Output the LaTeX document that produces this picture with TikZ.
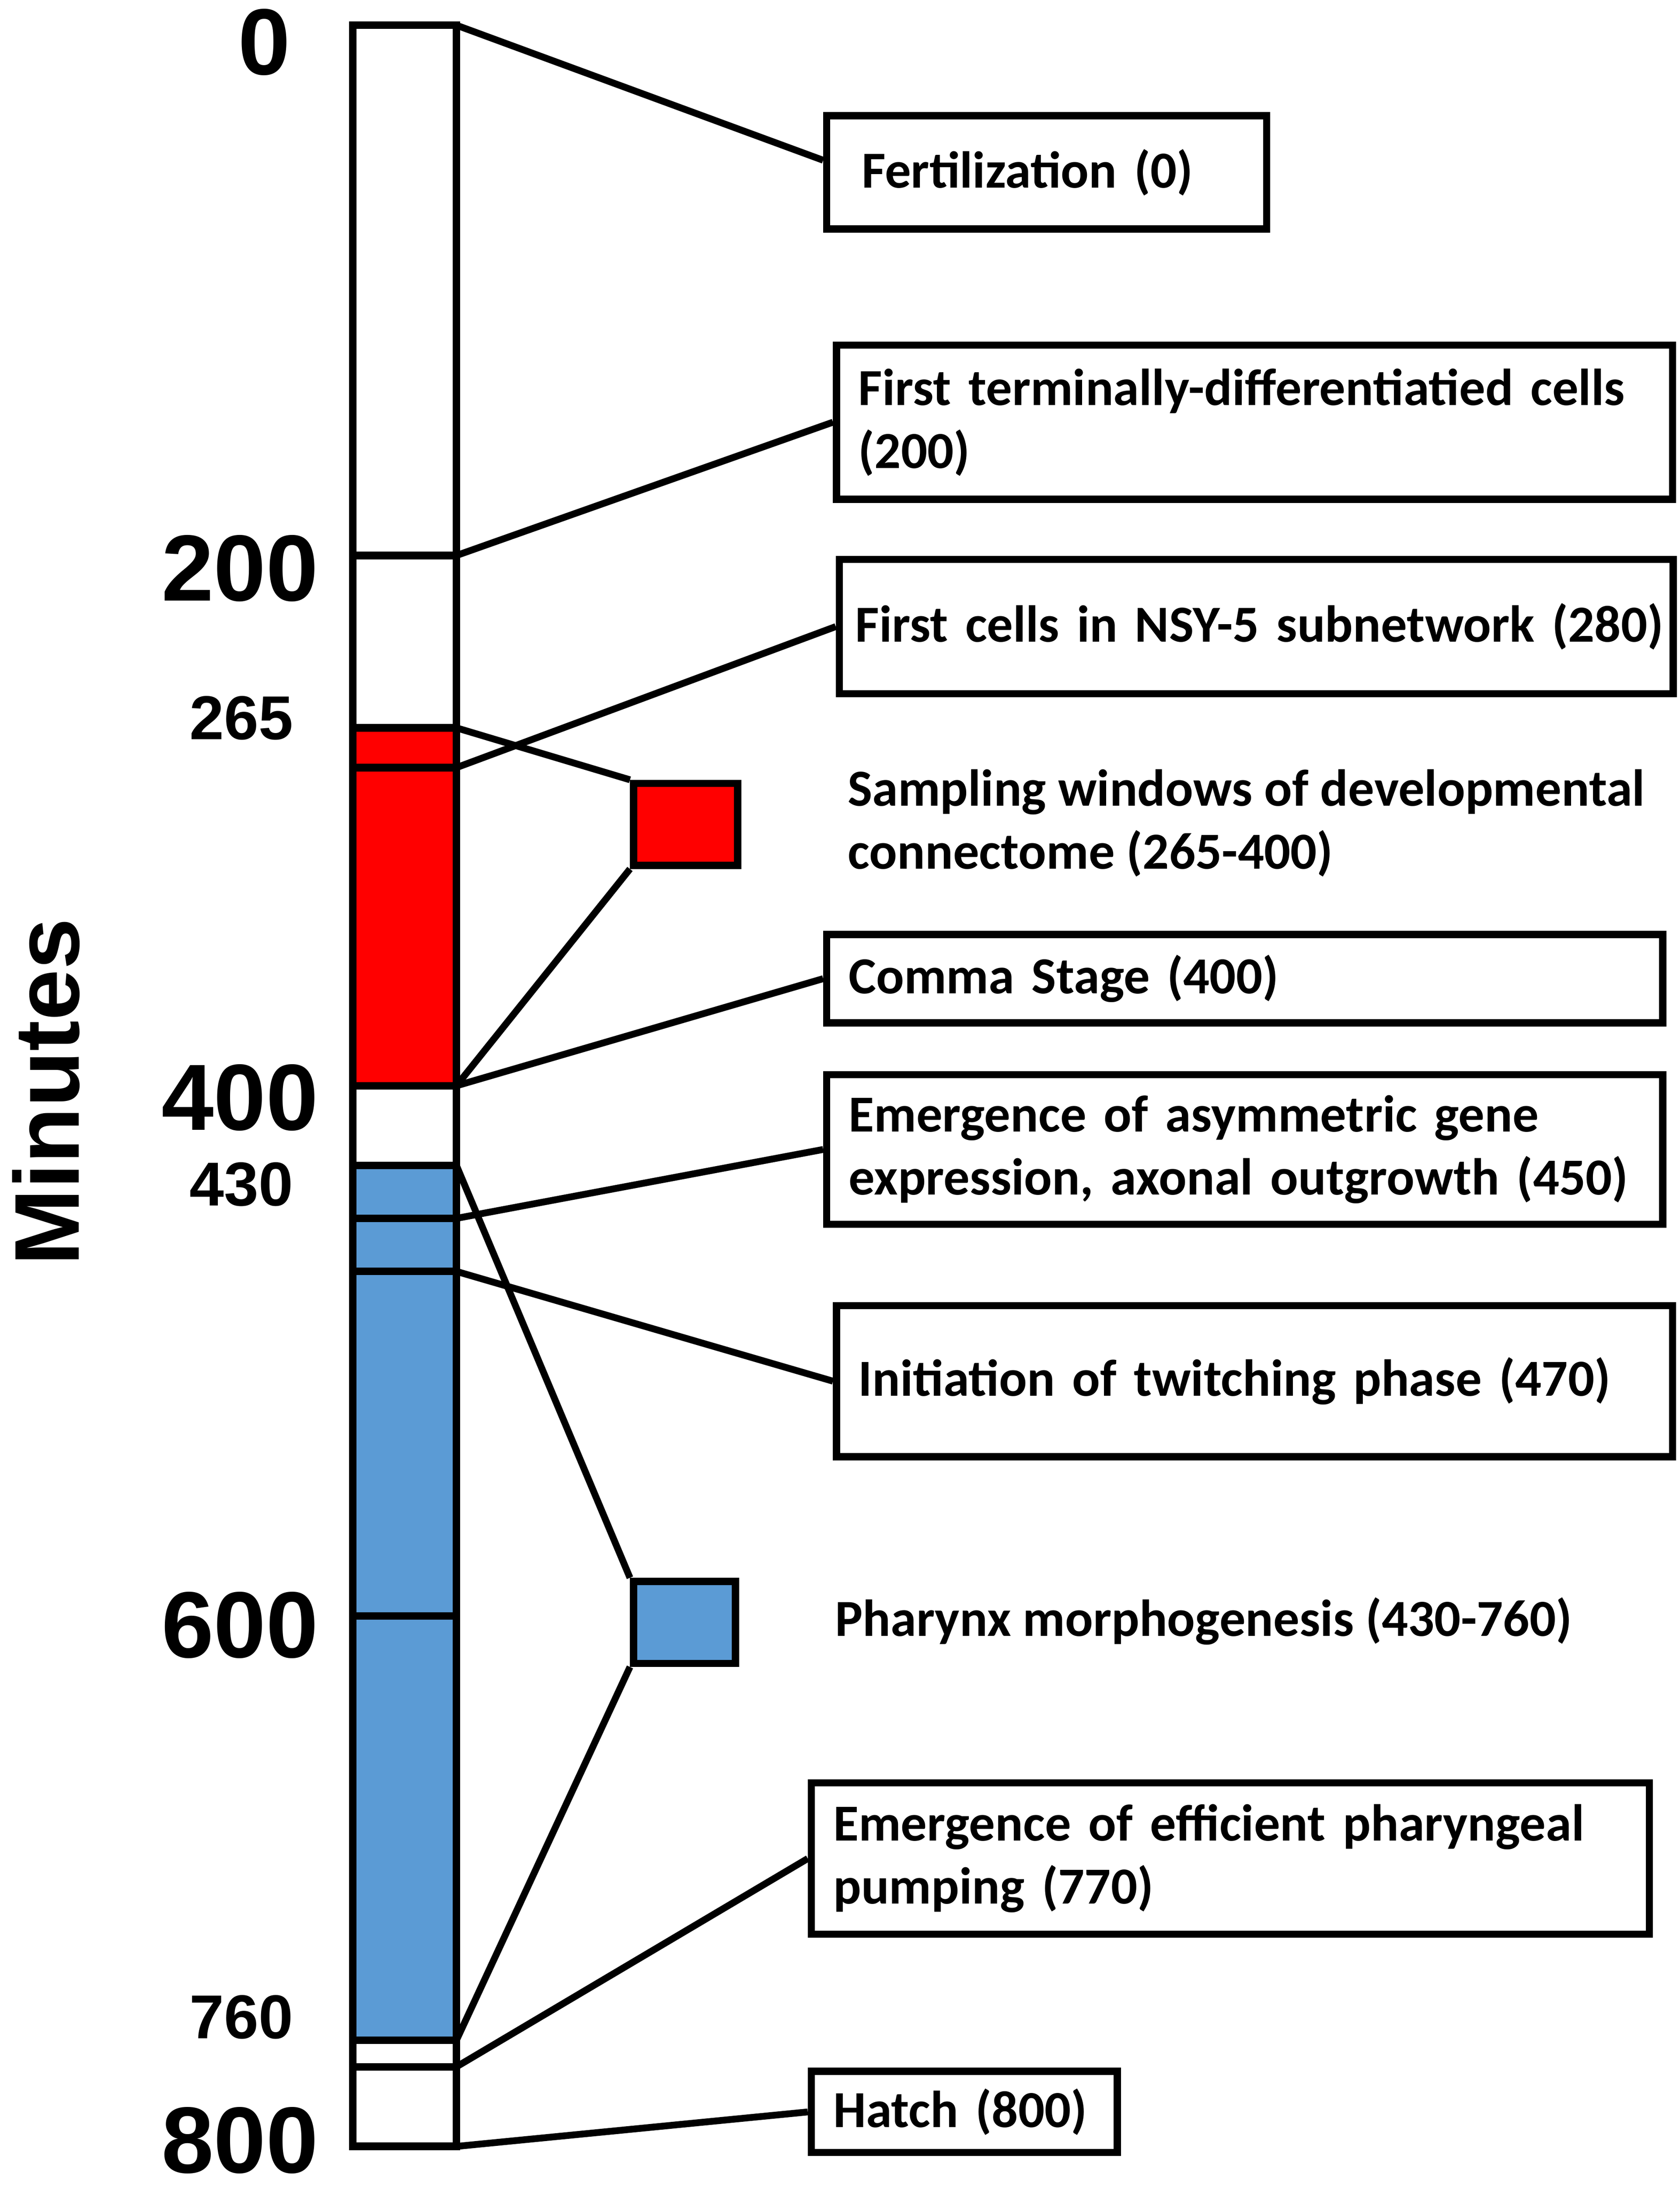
\documentclass[tikz,border=0pt]{standalone}
\usepackage{fontspec}
\newfontfamily\calfont{Carlito}
\newfontfamily\arfont{Liberation Sans}
\usetikzlibrary{calc}
\definecolor{winred}{RGB}{255,0,0}
\definecolor{winblue}{RGB}{91,155,213}

\begin{document}
\begin{tikzpicture}[x=0.35pt,y=-0.35pt,
  evbox/.style={draw,line width=1.8pt,anchor=north west,align=left,inner xsep=5.5pt,
    font=\calfont\bfseries\fontsize{13}{15.75}\selectfont},
  evtext/.style={anchor=west,align=left,inner sep=0pt,
    font=\calfont\bfseries\fontsize{13}{15.75}\selectfont},
  winbox/.style={draw,line width=1.8pt,anchor=north west,inner sep=0pt},
  link/.style={line width=1.7pt},
  bignum/.style={anchor=east,inner sep=0pt,font=\arfont\bfseries\fontsize{23.5}{28}\selectfont},
  smallnum/.style={anchor=east,inner sep=0pt,font=\arfont\bfseries\fontsize{15.5}{18}\selectfont}]
\useasboundingbox (0,0) rectangle (1200,1562.2);

% time bar, one y unit = one minute
\begin{scope}[shift={(0,18)},y=-0.6629pt]
\fill[winred] (252,265) rectangle (326,400);
\fill[winblue] (252,430) rectangle (326,760);
\foreach \t in {0,200,265,280,400,430,450,470,600,760,770,800} % edit here for the events
{
\draw[line width=1.9pt] (252,\t) -- (326,\t);
\coordinate (t\t) at (326,\t);
}
\draw[line width=1.9pt] (252,0) rectangle (326,800);
\end{scope}

% axis numbers
\node[bignum] (n0) at (208,30) {0};
\foreach \v/\yy in {200/406,400/784,600/1161,800/1529}
\node[bignum] (n\v) at (228,\yy) {\v};
\foreach \v/\yy in {265/513,430/846,760/1441}
\node[smallnum] (n\v) at (210,\yy) {\v};
\node[rotate=90,inner sep=0pt,font=\arfont\bfseries\fontsize{23}{27}\selectfont] (minutes) at (33,780) {Minutes};

% event boxes
\node[evbox,inner xsep=8.75pt,text width=92.5pt,minimum height=28.35pt] (fert) at (588,80) {Fertilization (0)};
\node[evbox,text width=198pt,minimum height=38.5pt] (term) at (595,244) {First terminally-differentiatied cells\\(200)};
\node[evbox,inner xsep=4pt,text width=200.5pt,minimum height=33.6pt] (nsy) at (597,397) {\mbox{First cells in NSY-5 subnetwork (280)}};
\node[evbox,text width=198pt,minimum height=22.05pt] (comma) at (588,665) {Comma Stage (400)};
\node[evbox,text width=198pt,minimum height=37.45pt] (asym) at (588,765) {Emergence of asymmetric gene\\expression, axonal outgrowth (450)};
\node[evbox,text width=198pt,minimum height=37.8pt] (twitch) at (595,930) {Initiation of twitching phase (470)};
\node[evbox,text width=198.5pt,minimum height=37.8pt] (pump) at (577,1271) {Emergence of efficient pharyngeal\\pumping (770)};
\node[evbox,text width=65.5pt,minimum height=20.3pt] (hatch) at (577,1477) {Hatch (800)};

% windows
\node[winbox,fill=winred,minimum width=26pt,minimum height=20.5pt] (redwin) at (450,557) {};
\node[winbox,fill=winblue,minimum width=25.5pt,minimum height=20.5pt] (bluewin) at (450,1127) {};
\node[evtext] (samptxt) at (605,588) {Sampling windows of developmental\\connectome (265-400)};
\node[evtext] (pharytxt) at (596,1158) {Pharynx morphogenesis (430-760)};

% connectors
\draw[link] (t0) -- ($(fert.north west)!0.4!(fert.south west)$);
\draw[link] (t200) -- (term.west);
\draw[link] (t280) -- (nsy.west);
\draw[link] (t265) -- (redwin.north west);
\draw[link] (t400) -- (redwin.south west);
\draw[link] (t400) -- (comma.west);
\draw[link] (t450) -- (asym.west);
\draw[link] (t430) -- (bluewin.north west);
\draw[link] (t470) -- (twitch.west);
\draw[link] (t760) -- (bluewin.south west);
\draw[link] (t770) -- (pump.west);
\draw[link] (t800) -- (hatch.west);
\end{tikzpicture}
\end{document}
